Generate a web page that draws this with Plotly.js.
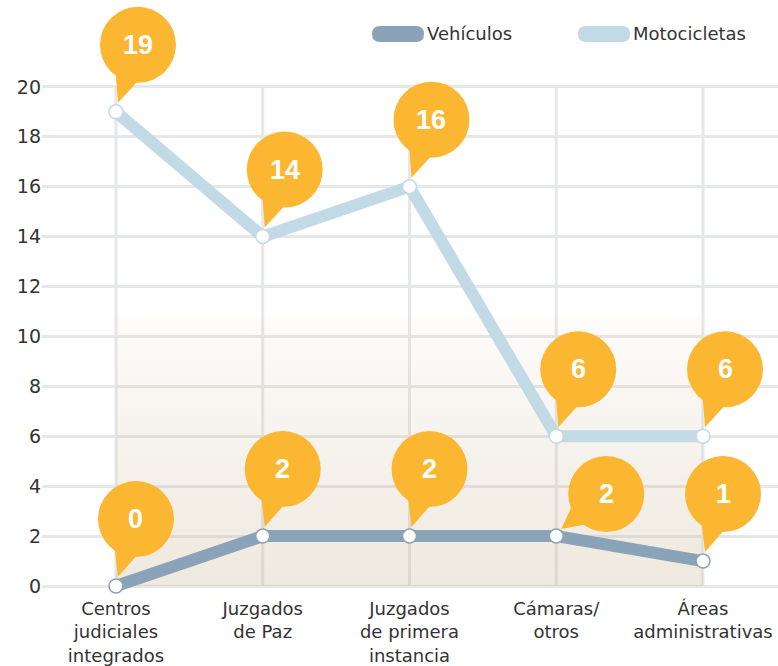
<!DOCTYPE html>
<html><head><meta charset="utf-8">
<script src="https://cdn.plot.ly/plotly-3.0.1.min.js"></script>
<style>html,body{margin:0;padding:0;background:#fff}</style>
</head><body><div id="chart" style="width:778px;height:666px"></div>
<script>
// ---- data ----
const categories = ['Centros<br>judiciales<br>integrados','Juzgados<br>de Paz','Juzgados<br>de primera<br>instancia','Cámaras/<br>otros','Áreas<br>administrativas'];
const vehiculos = [0, 2, 2, 2, 1];
const motocicletas = [19, 14, 16, 6, 6];
const seriesNames = ['Vehículos', 'Motocicletas'];
const yTickVals = [0, 2, 4, 6, 8, 10, 12, 14, 16, 18, 20];
const backdropTop = 10.8;

// ---- styles ----
const colVeh = '#8ba3b8', colMoto = '#c2d9e6', colBubble = '#fbb632', colGrid = '#e6e7e9';
const W = 778, H = 666, ML = 42, MR = 0, MT = 0, MB = 70;
const font = 'Liberation Sans, Arial, sans-serif';
const labelFont = 'DejaVu Sans, Liberation Sans, sans-serif';

const traces = [
  {x: categories, y: vehiculos, name: seriesNames[0], mode: 'lines+markers',
   line: {color: colVeh, width: 12},
   marker: {size: 14, color: '#fff', line: {color: colVeh, width: 1.5}}, cliponaxis: false, showlegend: false},
  {x: categories, y: motocicletas, name: seriesNames[1], mode: 'lines+markers',
   line: {color: colMoto, width: 12},
   marker: {size: 14, color: '#fff', line: {color: colMoto, width: 1.5}}, cliponaxis: false, showlegend: false}
];
// backdrop gradient drawn first (under the lines)
traces.unshift({
  x: [categories[0], categories[4], categories[4], categories[0]],
  y: [0, 0, backdropTop, backdropTop],
  mode: 'lines', fill: 'toself', line: {width: 0},
  fillgradient: {type: 'vertical', colorscale: [[0, 'rgba(200,180,145,0.30)'], [1, 'rgba(200,180,145,0.04)']]},
  hoverinfo: 'skip', showlegend: false
});

const shapes = [];
const annotations = [];

// vertical grid lines (0..20)
categories.forEach(c => shapes.push({type: 'line', xref: 'x', yref: 'y', x0: c, x1: c, y0: 0, y1: 20,
  layer: 'below', line: {color: colGrid, width: 3}}));

// callout bubbles
const R = 38;
function bubble(cat, val, dx, dy, tip) {
  const base = {xref: 'x', yref: 'y', xsizemode: 'pixel', ysizemode: 'pixel', xanchor: cat, yanchor: val,
    fillcolor: colBubble, line: {width: 0}};
  shapes.push(Object.assign({type: 'circle', x0: dx - R, x1: dx + R, y0: dy - R, y1: dy + R}, base));
  const th = Math.atan2(tip[1] - dy, tip[0] - dx), d = 19 * Math.PI / 180, r = R * 0.95;
  const p1 = [dx + r * Math.cos(th - d), dy + r * Math.sin(th - d)];
  const p2 = [dx + r * Math.cos(th + d), dy + r * Math.sin(th + d)];
  shapes.push(Object.assign({type: 'path',
    path: `M${tip[0]},${tip[1]} L${p1[0].toFixed(1)},${p1[1].toFixed(1)} L${p2[0].toFixed(1)},${p2[1].toFixed(1)} Z`}, base));
  annotations.push({x: cat, y: val, xref: 'x', yref: 'y', text: String(val), showarrow: false,
    xshift: dx, yshift: dy, font: {family: font, size: 27, color: '#fff', weight: 'bold'}});
}
motocicletas.forEach((v, i) => bubble(categories[i], v, 22, 67, [2, 9]));
vehiculos.forEach((v, i) => {
  if (i === 3) bubble(categories[i], v, 50, 42, [5, 7]);
  else bubble(categories[i], v, 20, 67, [2, 9]);
});

// manual legend
const pw = W - ML - MR, ph = H - MT - MB;
const px = x => (x - ML) / pw, py = y => (H - MB - y) / ph;
function legendItem(x, color, name) {
  shapes.push({type: 'path', xref: 'paper', yref: 'paper', xsizemode: 'pixel', ysizemode: 'pixel',
    xanchor: px(x), yanchor: py(34), fillcolor: color, line: {width: 0},
    path: 'M8,-8 H44 Q52,-8 52,0 Q52,8 44,8 H8 Q0,8 0,0 Q0,-8 8,-8 Z'});
  annotations.push({xref: 'paper', yref: 'paper', x: px(x + 53), y: py(34), xanchor: 'left', yanchor: 'middle',
    text: name, showarrow: false, font: {family: labelFont, size: 18, color: '#333'}});
}
legendItem(372, colVeh, seriesNames[0]);
legendItem(578, colMoto, seriesNames[1]);

const layout = {
  width: W, height: H, margin: {l: ML, r: MR, t: MT, b: MB},
  paper_bgcolor: '#fff', plot_bgcolor: '#fff', showlegend: false,
  font: {family: labelFont, color: '#333'},
  xaxis: {type: 'category', categoryorder: 'array', categoryarray: categories,
    range: [-0.504, 4.511], showgrid: false, zeroline: false, showline: false,
    ticks: '', tickfont: {size: 18, color: '#333'}, fixedrange: true},
  yaxis: {range: [-0.4, 23.48], tickvals: yTickVals, showgrid: true, gridcolor: colGrid, gridwidth: 3,
    zeroline: false, showline: false, ticks: '', tickfont: {size: 19, color: '#333'}, fixedrange: true},
  shapes: shapes, annotations: annotations
};
Plotly.newPlot('chart', traces, layout, {displayModeBar: false, staticPlot: true});
</script></body></html>
